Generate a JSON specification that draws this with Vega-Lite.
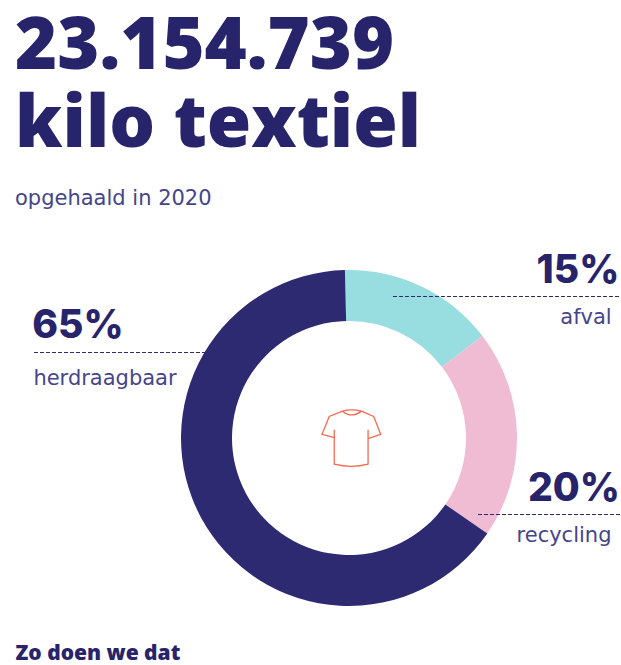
{
  "$schema": "https://vega.github.io/schema/vega-lite/v6.json",
  "width": 336,
  "height": 336,
  "padding": {"left": 181, "top": 270, "right": 104, "bottom": 59},
  "autosize": {"type": "none"},
  "background": "white",
  "config": {"view": {"stroke": null}},
  "title": {
    "text": ["23.154.739", "kilo textiel"],
    "subtitle": "opgehaald in 2020",
    "anchor": "start",
    "frame": "group",
    "dx": -166,
    "offset": 42,
    "font": "Open Sans",
    "fontSize": 72,
    "fontWeight": 800,
    "lineHeight": 78,
    "color": "#27246b",
    "subtitleFont": "DejaVu Sans",
    "subtitleFontSize": 21,
    "subtitleFontWeight": 400,
    "subtitleColor": "#45458a",
    "subtitlePadding": 26
  },
  "data": {
    "values": [
      {"naam": "afval", "aandeel": 0.15, "volgorde": 1},
      {"naam": "recycling", "aandeel": 0.2, "volgorde": 2},
      {"naam": "herdraagbaar", "aandeel": 0.65, "volgorde": 3}
    ]
  },
  "layer": [
    {
      "mark": {"type": "arc", "innerRadius": 117, "outerRadius": 168},
      "encoding": {
        "theta": {"field": "aandeel", "type": "quantitative", "stack": true, "scale": {"domain": [0, 1], "range": [-0.0244, 6.2588]}},
        "order": {"field": "volgorde", "type": "ordinal"},
        "color": {
          "field": "naam",
          "type": "nominal",
          "legend": null,
          "scale": {"domain": ["afval", "recycling", "herdraagbaar"], "range": ["#98dddf", "#f0bcd3", "#2d2a72"]}
        }
      }
    },
    {
      "transform": [{"calculate": "datum.aandeel + 1", "as": "lijnEinde"}],
      "mark": {"type": "rule", "stroke": "#2d2a72", "strokeWidth": 1, "strokeDash": [4, 2]},
      "encoding": {
        "x": {
          "field": "aandeel",
          "type": "quantitative",
          "scale": {"domain": [0.15, 0.2, 0.65, 1.15, 1.2, 1.65], "range": [212, 297, -147, 440, 439, 34]},
          "axis": {
            "title": "Zo doen we dat",
            "titleFont": "Open Sans",
            "titleFontSize": 21,
            "titleFontWeight": 800,
            "titleColor": "#27246b",
            "titleAnchor": "start",
            "titleAlign": "left",
            "titleBaseline": "alphabetic",
            "titleX": -166,
            "titleY": 53,
            "domain": false,
            "ticks": false,
            "labels": false,
            "grid": false
          }
        },
        "x2": {"field": "lijnEinde"},
        "y": {
          "field": "aandeel",
          "type": "quantitative",
          "axis": null,
          "scale": {"domain": [0.15, 0.2, 0.65], "range": [26.5, 244.5, 82.5]}
        }
      }
    },
    {
      "mark": {"type": "text", "font": "Inter", "fontSize": 39, "fontWeight": 800, "color": "#27246b", "baseline": "middle"},
      "encoding": {
        "text": {"field": "aandeel", "type": "quantitative", "format": ".0%"},
        "x": {
          "field": "aandeel",
          "type": "quantitative",
          "axis": null,
          "scale": {"domain": [0.15, 0.2, 0.65], "range": [397, 393, -103]}
        },
        "y": {
          "field": "aandeel",
          "type": "quantitative",
          "axis": null,
          "scale": {"domain": [0.15, 0.2, 0.65], "range": [1, 219, 56]}
        }
      }
    },
    {
      "mark": {"type": "text", "font": "DejaVu Sans", "fontSize": 21, "fontWeight": 400, "color": "#45458a", "baseline": "middle"},
      "encoding": {
        "text": {"field": "naam", "type": "nominal"},
        "x": {
          "field": "aandeel",
          "type": "quantitative",
          "axis": null,
          "scale": {"domain": [0.15, 0.2, 0.65], "range": [405, 383, -76]}
        },
        "y": {
          "field": "aandeel",
          "type": "quantitative",
          "axis": null,
          "scale": {"domain": [0.15, 0.2, 0.65], "range": [48, 266, 109]}
        }
      }
    },
    {
      "data": {"values": [{"icoon": "t-shirt"}]},
      "mark": {
        "type": "point",
        "shape": "M-.445,-.25 L-.445,.79 Q.075,.92 .575,.79 L.575,-.25 M-.435,-.01 L-.815,-.11 L-.595,-.65 L-.195,-.81 Q.075,-.88 .375,-.81 L.745,-.65 L.955,-.11 L.575,.02 M-.195,-.81 Q.075,-.58 .375,-.81",
        "size": 4400,
        "filled": false,
        "opacity": 1,
        "stroke": "#f26a50",
        "strokeWidth": 1.3
      }
    }
  ],
  "resolve": {"scale": {"x": "independent", "y": "independent", "theta": "independent", "color": "independent"}, "axis": {"x": "independent", "y": "independent"}}
}
